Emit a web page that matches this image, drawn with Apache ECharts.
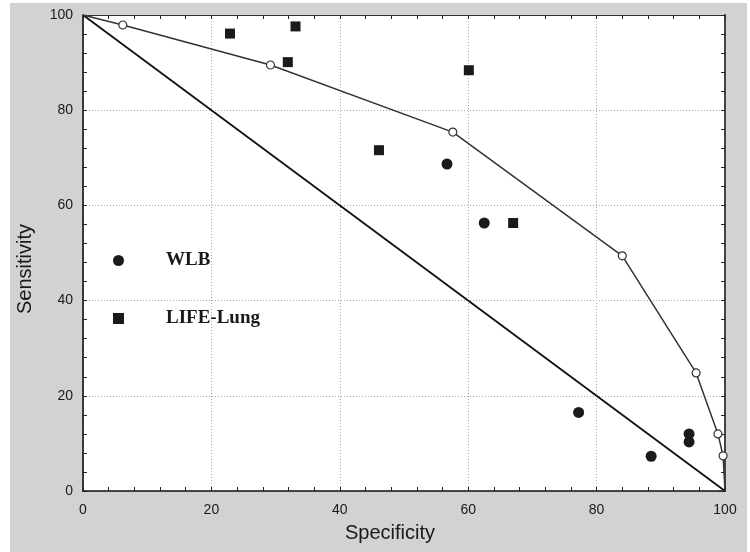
<!DOCTYPE html>
<html lang="en">
<head>
    <meta charset="UTF-8">
    <title>ROC</title>
    <style>
        html, body { margin: 0; padding: 0; background: #fff; }
    </style>
</head>
<body>
<div id="main" style="width: 750px;height:552px;"></div>
<script src="https://cdn.jsdelivr.net/npm/echarts@6/dist/echarts.min.js"></script>
<script type="text/javascript">
    // ROC curve (open circles), ends have no marker
    var rocSpec = [0, 6.2, 29.2, 57.6, 84.0, 95.5, 98.9, 99.7, 100];
    var rocSens = [100, 97.9, 89.5, 75.4, 49.4, 24.8, 12.0, 7.4, 0];
    // chance line
    var diagSpec = [0, 100];
    var diagSens = [100, 0];
    // WLB points
    var wlbSpec = [56.7, 62.5, 77.2, 88.5, 94.4, 94.4];
    var wlbSens = [68.7, 56.3, 16.5, 7.3, 12.0, 10.3];
    // LIFE-Lung points
    var lifeSpec = [22.9, 33.1, 31.9, 60.1, 46.1, 67.0];
    var lifeSens = [96.1, 97.6, 90.1, 88.4, 71.6, 56.3];
    var ticks = [0, 20, 40, 60, 80, 100];

    function pairs(xs, ys) {
        var out = [];
        for (var i = 0; i < xs.length; i++) {
            out.push([xs[i], ys[i]]);
        }
        return out;
    }

    var rocData = pairs(rocSpec, rocSens).map(function (p, i) {
        if (i === 0 || i === rocSpec.length - 1) {
            return { value: p, symbol: 'none' };
        }
        return { value: p };
    });

    var font = '"Liberation Sans", Arial, sans-serif';
    var myChart = echarts.init(document.getElementById('main'));

    function mainAxis(pos, name) {
        return {
            type: 'value',
            position: pos,
            min: ticks[0],
            max: ticks[ticks.length - 1],
            interval: 20,
            name: name,
            nameLocation: 'middle',
            nameGap: pos === 'bottom' ? 32 : 48,
            nameTextStyle: {
                fontFamily: font,
                fontSize: 20,
                color: '#1a1a1a',
                padding: [0, 28, 0, 0]
            },
            axisLine: { show: true, onZero: false, lineStyle: { color: '#111', width: 1.6 } },
            axisTick: { show: true, inside: true, length: 4, lineStyle: { color: '#222', width: 1 } },
            minorTick: { show: true, splitNumber: 5, length: 4, lineStyle: { color: '#222', width: 1 } },
            axisLabel: {
                fontFamily: font,
                fontSize: 14,
                color: '#1a1a1a',
                margin: pos === 'bottom' ? 12 : 10
            },
            splitLine: { show: true, lineStyle: { color: '#aaa', width: 1, type: [1, 2] } }
        };
    }

    function mirrorAxis(pos) {
        return {
            type: 'value',
            position: pos,
            min: ticks[0],
            max: ticks[ticks.length - 1],
            interval: 20,
            axisLine: { show: true, onZero: false, lineStyle: { color: pos === 'right' ? '#444' : '#333', width: pos === 'right' ? 2 : 1.2 } },
            axisTick: { show: true, inside: true, length: 4, lineStyle: { color: '#222', width: 1 } },
            minorTick: { show: true, splitNumber: 5, length: 4, lineStyle: { color: '#222', width: 1 } },
            axisLabel: { show: false },
            splitLine: { show: false }
        };
    }

    var xMain = mainAxis('bottom', 'Specificity');
    var yMain = mainAxis('left', 'Sensitivity');
    yMain.nameTextStyle.padding = [0, 32, 0, 0];

    var legendText = {
        fontFamily: '"Liberation Serif", "Times New Roman", serif',
        fontWeight: 'bold',
        fontSize: 19,
        color: '#1a1a1a',
        padding: [0, 0, 0, 37]
    };

    myChart.setOption({
        animation: false,
        backgroundColor: '#fff',
        graphic: {
            elements: [{
                type: 'rect',
                z: -100,
                shape: { x: 10, y: 3, width: 737, height: 549 },
                style: { fill: '#d1d2d4' },
                silent: true
            }]
        },
        grid: {
            left: 83,
            right: 25,
            top: 15,
            bottom: 61,
            show: true,
            backgroundColor: '#fff',
            borderWidth: 0
        },
        legend: [{
            data: ['WLB'],
            orient: 'vertical',
            left: 113,
            top: 251,
            padding: 0,
            itemWidth: 11,
            itemHeight: 11,
            textStyle: legendText
        }, {
            data: ['LIFE-Lung'],
            orient: 'vertical',
            left: 113,
            top: 309,
            padding: 0,
            itemWidth: 11,
            itemHeight: 11,
            textStyle: legendText
        }],
        xAxis: [xMain, mirrorAxis('top')],
        yAxis: [yMain, mirrorAxis('right')],
        series: [
            {
                name: 'chance',
                type: 'line',
                data: pairs(diagSpec, diagSens),
                showSymbol: false,
                symbol: 'none',
                lineStyle: { color: '#111', width: 1.8 },
                z: 2
            },
            {
                name: 'ROC',
                type: 'line',
                data: rocData,
                symbol: 'circle',
                symbolSize: 8,
                itemStyle: { color: '#fff', borderColor: '#333', borderWidth: 1.2 },
                lineStyle: { color: '#333', width: 1.5 },
                z: 3
            },
            {
                name: 'WLB',
                type: 'scatter',
                data: pairs(wlbSpec, wlbSens),
                symbol: 'circle',
                symbolSize: 11,
                itemStyle: { color: '#1a1a1a', opacity: 1 },
                z: 4
            },
            {
                name: 'LIFE-Lung',
                type: 'scatter',
                data: pairs(lifeSpec, lifeSens),
                symbol: 'rect',
                symbolSize: 10,
                itemStyle: { color: '#1a1a1a', opacity: 1 },
                z: 4
            }
        ]
    });
</script>
</body>
</html>
